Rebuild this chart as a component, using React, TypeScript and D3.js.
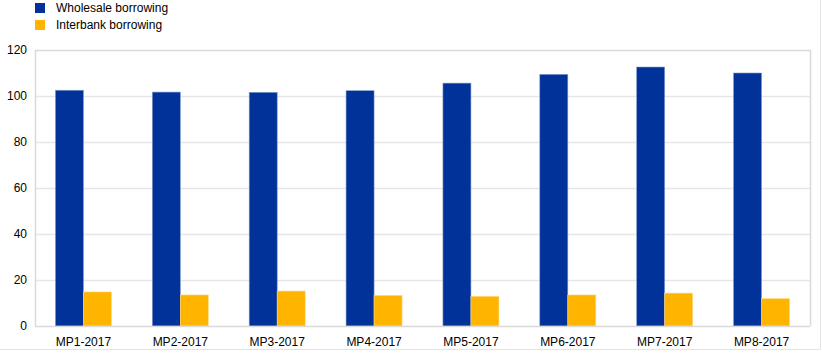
import React, { useEffect, useRef } from "react";
import * as d3 from "d3";

const categories = ["MP1-2017", "MP2-2017", "MP3-2017", "MP4-2017", "MP5-2017", "MP6-2017", "MP7-2017", "MP8-2017"];
const wholesale = [102.5, 101.7, 101.6, 102.3, 105.6, 109.4, 112.6, 110.0];
const interbank = [14.8, 13.5, 15.2, 13.3, 12.9, 13.5, 14.3, 11.9];
const seriesNames = ["Wholesale borrowing", "Interbank borrowing"];
const seriesColors = ["#003299", "#ffb400"];
const yTicks = [0, 20, 40, 60, 80, 100, 120];

const W = 822;
const H = 354;

export default function App() {
  const ref = useRef<SVGSVGElement>(null);

  useEffect(() => {
    const svg = d3.select(ref.current);
    svg.selectAll("*").remove();

    const margin = { top: 50, right: 12, bottom: 28, left: 35 };
    const innerW = W - margin.left - margin.right;
    const innerH = H - margin.top - margin.bottom;
    const font = "Arial, 'Liberation Sans', sans-serif";

    // outer frame lines (right and bottom)
    svg.append("line").attr("x1", 820.5).attr("x2", 820.5).attr("y1", 0).attr("y2", 349.5)
      .attr("stroke", "#e3e3e3");
    svg.append("line").attr("x1", 0).attr("x2", 820.5).attr("y1", 349.5).attr("y2", 349.5)
      .attr("stroke", "#e3e3e3");

    const g = svg.append("g").attr("transform", `translate(${margin.left},${margin.top})`);

    const x = d3.scaleBand<string>().domain(categories).range([0, innerW]).padding(0);
    const y = d3.scaleLinear().domain([0, 120]).range([innerH, 0]);
    const groupW = x.bandwidth() * 0.578;
    const x1 = d3.scaleBand<number>().domain([0, 1]).range([0, groupW]).padding(0);

    // gridlines
    g.selectAll(".grid").data(yTicks.filter((t) => t > 0)).join("line")
      .attr("x1", 0).attr("x2", innerW)
      .attr("y1", (d) => Math.round(y(d)) + 0.5).attr("y2", (d) => Math.round(y(d)) + 0.5)
      .attr("stroke", (d) => (d === 120 ? "#d9d9d9" : "#e6e6e6"))
      .attr("stroke-width", 1.5);

    // plot borders
    g.append("line").attr("x1", 0.5).attr("x2", 0.5).attr("y1", 0).attr("y2", innerH)
      .attr("stroke", "#d9d9d9").attr("stroke-width", 1.5);
    g.append("line").attr("x1", innerW + 0.5).attr("x2", innerW + 0.5).attr("y1", 0).attr("y2", innerH)
      .attr("stroke", "#d9d9d9").attr("stroke-width", 1.5);

    const values = [wholesale, interbank];
    const groups = g.selectAll(".cat").data(categories).join("g")
      .attr("transform", (d) => `translate(${(x(d) as number) + (x.bandwidth() - groupW) / 2},0)`);

    groups.selectAll("rect")
      .data((d, i) => values.map((v, s) => ({ s, v: v[i] })))
      .join("rect")
      .attr("x", (d) => x1(d.s) as number)
      .attr("width", x1.bandwidth())
      .attr("y", (d) => y(d.v))
      .attr("height", (d) => innerH - y(d.v))
      .attr("fill", (d) => seriesColors[d.s])
      .attr("stroke", (d) => (d.s === 0 ? "#7f99cc" : "#ffd980"))
      .attr("stroke-width", 0.6);

    // baseline
    g.append("line").attr("x1", 0).attr("x2", innerW)
      .attr("y1", innerH + 0.5).attr("y2", innerH + 0.5)
      .attr("stroke", "#d9d9d9").attr("stroke-width", 1.5);

    // y axis labels
    g.selectAll(".ylab").data(yTicks).join("text")
      .attr("x", -8).attr("y", (d) => y(d)).attr("dy", "0.35em")
      .attr("text-anchor", "end")
      .attr("font-family", font).attr("font-size", 12).attr("fill", "#000")
      .text((d) => d);

    // x axis labels
    g.selectAll(".xlab").data(categories).join("text")
      .attr("x", (d) => (x(d) as number) + x.bandwidth() / 2)
      .attr("y", innerH + 20)
      .attr("text-anchor", "middle")
      .attr("font-family", font).attr("font-size", 12).attr("fill", "#000")
      .text((d) => d);

    // legend
    const legend = svg.append("g");
    seriesNames.forEach((name, i) => {
      legend.append("rect").attr("x", 35).attr("y", 3 + i * 17).attr("width", 10).attr("height", 10)
        .attr("fill", seriesColors[i]);
      legend.append("text").attr("x", 56).attr("y", 8 + i * 17).attr("dy", "0.35em")
        .attr("font-family", font).attr("font-size", 12).attr("fill", "#000")
        .text(name);
    });
  }, []);

  return (
    <svg ref={ref} width={W} height={H}
      style={{ position: "absolute", left: 0, top: 0, background: "#fff" }} />
  );
}
